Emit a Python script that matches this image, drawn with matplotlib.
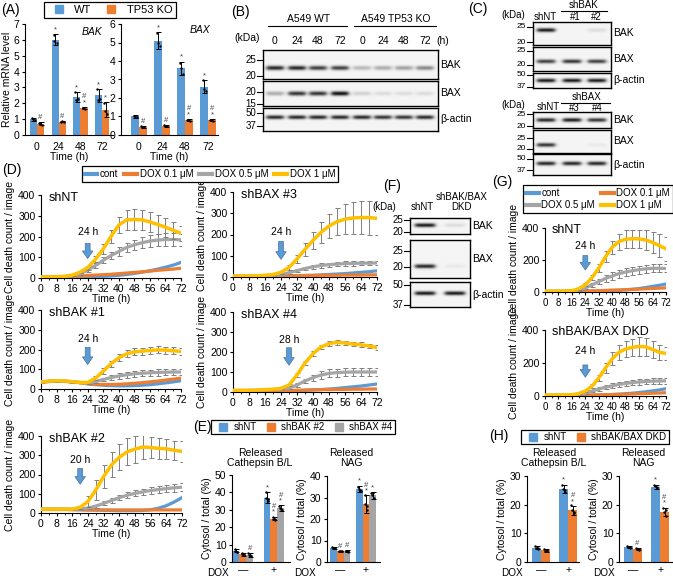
import numpy as np
import matplotlib
matplotlib.use('Agg')
import matplotlib.pyplot as plt
from matplotlib.lines import Line2D
from matplotlib.patches import FancyArrowPatch

plt.rcParams['font.family'] = ['Liberation Sans', 'DejaVu Sans']
plt.rcParams['font.size'] = 7
plt.rcParams['axes.linewidth'] = 0.8
plt.rcParams['xtick.major.width'] = 0.8
plt.rcParams['ytick.major.width'] = 0.8
plt.rcParams['xtick.major.size'] = 2.5
plt.rcParams['ytick.major.size'] = 2.5
plt.rcParams['xtick.major.pad'] = 1.5
plt.rcParams['ytick.major.pad'] = 1.5

BLUE, ORANGE, GRAY, YELLOW = '#5B9BD5', '#ED7D31', '#A5A5A5', '#FFC000'

# ---------------- data ----------------
# (A) relative mRNA level
a_times = ['0', '24', '48', '72']
bak_wt = [1.0, 6.0, 2.4, 2.5]
bak_wt_err = [0.1, 0.35, 0.3, 0.4]
bak_ko = [0.7, 0.85, 1.7, 1.6]
bak_ko_err = [0.1, 0.05, 0.06, 0.45]
bak_wt_pts = [[1.05, 0.95, 1.0], [6.3, 5.8, 5.9], [2.7, 2.3, 2.2], [2.9, 2.3, 2.2]]
bak_ko_pts = [[0.75, 0.6, 0.7], [0.85, 0.82, 0.88], [1.7, 1.65, 1.72], [2.0, 1.3, 1.5]]
bak_wt_marks = ['', '*', '*', '*']
bak_ko_marks = ['#', '#', '#\n*', '*']
bax_wt = [1.0, 5.1, 3.6, 2.6]
bax_wt_err = [0.1, 0.45, 0.35, 0.35]
bax_ko = [0.45, 0.5, 0.8, 0.8]
bax_ko_err = [0.05, 0.05, 0.05, 0.05]
bax_wt_pts = [[1.05, 0.95, 1.0], [5.5, 4.8, 5.0], [3.9, 3.3, 3.6], [2.95, 2.4, 2.5]]
bax_ko_pts = [[0.5, 0.42, 0.45], [0.52, 0.48, 0.5], [0.82, 0.78, 0.8], [0.82, 0.78, 0.8]]
bax_wt_marks = ['', '*', '*', '*']
bax_ko_marks = ['#', '#', '#\n*', '#\n*']

# western blot band intensities (0 = none, 1 = strongest)
b_lanes = ['0', '24', '48', '72', '0', '24', '48', '72']
b_bak = [0.85, 0.85, 0.75, 0.75, 0.25, 0.3, 0.35, 0.45]
b_bax = [0.3, 0.8, 0.8, 0.95, 0.15, 0.1, 0.1, 0.1]
b_actin = [0.85, 0.85, 0.85, 0.85, 0.85, 0.8, 0.8, 0.85]
c1_bak = [0.9, 0.0, 0.1]
c1_bax = [0.75, 0.8, 0.75]
c1_actin = [0.9, 0.9, 0.9]
c2_bak = [0.85, 0.9, 0.8]
c2_bax = [0.8, 0.0, 0.05]
c2_actin = [0.85, 0.85, 0.85]
f_bak = [0.9, 0.1]
f_bax = [0.85, 0.05]
f_actin = [0.9, 0.9]

# (D)/(G) cell death count / image
T = [0, 4, 8, 12, 16, 20, 24, 28, 32, 36, 40, 44, 48, 52, 56, 60, 64, 68, 72]
shNT_cont = [3, 3, 3, 3, 3, 4, 5, 6, 8, 10, 13, 17, 22, 28, 35, 43, 52, 62, 75]
shNT_d01 = [3, 4, 5, 6, 8, 10, 12, 14, 16, 18, 21, 24, 27, 30, 33, 37, 40, 43, 47]
shNT_d05 = [5, 5, 6, 7, 10, 20, 38, 60, 85, 108, 128, 147, 160, 170, 178, 183, 185, 186, 184]
shNT_d1 = [5, 5, 6, 8, 14, 28, 50, 90, 140, 200, 255, 280, 282, 280, 270, 258, 245, 230, 215]
shNT_e05 = [0, 0, 0, 0, 2, 5, 8, 12, 15, 18, 20, 22, 25, 27, 28, 30, 30, 30, 30]
shNT_e1 = [0, 0, 0, 0, 3, 6, 10, 15, 22, 30, 40, 48, 50, 50, 48, 45, 45, 40, 35]

bax3_cont = [3, 3, 3, 3, 3, 3, 4, 5, 6, 7, 8, 10, 12, 14, 16, 19, 22, 25, 29]
bax3_d01 = [3, 3, 3, 4, 4, 5, 5, 6, 6, 7, 7, 8, 8, 8, 9, 9, 9, 10, 10]
bax3_d05 = [4, 4, 5, 5, 6, 8, 12, 20, 30, 40, 48, 54, 58, 61, 63, 64, 65, 65, 66]
bax3_d1 = [4, 4, 5, 6, 8, 12, 22, 45, 85, 130, 172, 210, 240, 260, 272, 278, 280, 280, 276]
bax3_e05 = [0, 0, 0, 0, 1, 2, 3, 5, 7, 8, 9, 10, 10, 10, 10, 10, 10, 10, 10]
bax3_e1 = [0, 0, 0, 0, 1, 3, 6, 12, 20, 30, 40, 50, 58, 64, 70, 74, 78, 80, 80]

bak1_cont = [35, 38, 40, 39, 36, 32, 26, 22, 19, 17, 16, 16, 17, 19, 22, 26, 31, 36, 42]
bak1_d01 = [35, 38, 40, 39, 36, 32, 27, 24, 23, 23, 24, 26, 29, 32, 36, 40, 45, 50, 55]
bak1_d05 = [35, 40, 42, 41, 37, 33, 30, 38, 48, 58, 66, 72, 77, 80, 82, 84, 85, 86, 86]
bak1_d1 = [35, 40, 42, 41, 37, 33, 33, 55, 90, 128, 158, 178, 188, 192, 195, 198, 197, 194, 190]
bak1_e05 = [5, 6, 6, 6, 5, 5, 5, 8, 10, 12, 14, 15, 16, 16, 16, 16, 16, 16, 16]
bak1_e1 = [5, 6, 6, 6, 5, 5, 6, 10, 14, 16, 18, 18, 18, 18, 18, 18, 18, 18, 18]

bax4_cont = [5, 5, 5, 5, 5, 5, 5, 6, 7, 8, 10, 12, 15, 18, 22, 26, 30, 35, 40]
bax4_d01 = [5, 5, 5, 5, 6, 6, 7, 8, 9, 10, 11, 12, 12, 13, 13, 14, 14, 15, 15]
bax4_d05 = [8, 8, 8, 9, 10, 12, 14, 20, 35, 55, 72, 85, 93, 97, 99, 100, 100, 100, 100]
bax4_d1 = [8, 8, 9, 10, 12, 14, 18, 35, 85, 145, 192, 225, 242, 248, 245, 240, 236, 230, 222]
bax4_e05 = [1, 1, 1, 1, 2, 2, 3, 5, 8, 12, 15, 18, 20, 20, 20, 20, 20, 20, 20]
bax4_e1 = [1, 1, 1, 1, 2, 2, 3, 5, 8, 10, 12, 12, 12, 12, 12, 12, 12, 12, 12]

bak2_cont = [20, 20, 20, 19, 18, 17, 16, 15, 14, 13, 12, 12, 12, 13, 17, 25, 38, 57, 80]
bak2_d01 = [18, 18, 18, 18, 17, 17, 16, 16, 16, 16, 16, 16, 16, 16, 16, 16, 16, 16, 16]
bak2_d05 = [20, 20, 20, 20, 20, 21, 26, 36, 50, 65, 80, 92, 102, 110, 117, 122, 127, 131, 134]
bak2_d1 = [20, 20, 20, 20, 20, 30, 60, 120, 190, 250, 290, 318, 332, 343, 340, 336, 333, 326, 320]
bak2_e05 = [2, 2, 2, 2, 2, 3, 5, 8, 10, 12, 14, 15, 16, 17, 18, 18, 19, 20, 20]
bak2_e1 = [2, 2, 2, 2, 2, 8, 30, 50, 60, 65, 68, 70, 70, 60, 55, 55, 50, 50, 55]

g_nt_cont = [3, 3, 3, 3, 3, 3, 4, 5, 6, 7, 8, 10, 13, 17, 22, 28, 35, 42, 50]
g_nt_d01 = [3, 3, 3, 4, 4, 5, 6, 7, 8, 10, 12, 13, 15, 16, 18, 20, 22, 24, 26]
g_nt_d05 = [5, 5, 5, 6, 8, 12, 25, 45, 65, 85, 100, 115, 125, 133, 140, 145, 148, 148, 147]
g_nt_d1 = [5, 5, 5, 6, 8, 20, 45, 90, 150, 220, 280, 315, 330, 333, 332, 325, 310, 290, 270]
g_nt_e05 = [0, 0, 0, 1, 2, 4, 8, 12, 16, 20, 22, 25, 25, 25, 25, 25, 25, 25, 25]
g_nt_e1 = [0, 0, 0, 1, 3, 6, 10, 15, 25, 35, 40, 50, 55, 55, 55, 60, 65, 70, 75]

g_dkd_cont = [3, 3, 3, 3, 3, 3, 4, 5, 6, 7, 9, 11, 14, 17, 21, 26, 31, 37, 44]
g_dkd_d01 = [3, 3, 3, 3, 4, 4, 5, 6, 7, 8, 9, 10, 11, 12, 14, 15, 17, 18, 20]
g_dkd_d05 = [5, 5, 5, 5, 7, 10, 18, 30, 42, 53, 62, 70, 76, 81, 85, 88, 90, 91, 92]
g_dkd_d1 = [5, 5, 5, 6, 8, 15, 30, 60, 110, 170, 225, 265, 285, 295, 300, 298, 282, 265, 258]
g_dkd_e05 = [0, 0, 0, 0, 1, 2, 5, 8, 10, 12, 14, 15, 16, 17, 18, 18, 18, 18, 18]
g_dkd_e1 = [0, 0, 0, 0, 2, 4, 6, 12, 20, 30, 40, 45, 50, 52, 55, 55, 50, 45, 40]

# (E)/(H) released enzymes, [DOX -, DOX +]
dox_labels = ['\u2014', '+']
e_cat = {'shNT': [6.5, 37], 'shBAK #2': [4.5, 25], 'shBAX #4': [4.0, 31]}
e_cat_err = {'shNT': [1.0, 3.0], 'shBAK #2': [0.8, 1.0], 'shBAX #4': [1.0, 1.5]}
e_cat_pts = {'shNT': [[7.5, 6, 6.5, 5.8], [40, 35, 37, 36]],
             'shBAK #2': [[5, 4, 4.5, 4.2], [26, 24.5, 25, 24]],
             'shBAX #4': [[5, 3.5, 4, 3.8], [32, 30, 31, 30.5]]}
e_cat_marks = {'shNT': ['', '*'], 'shBAK #2': ['', '#\n*'], 'shBAX #4': ['#', '#\n*']}
e_nag = {'shNT': [6.6, 34], 'shBAK #2': [5.0, 27], 'shBAX #4': [5.1, 31]}
e_nag_err = {'shNT': [0.4, 1.5], 'shBAK #2': [0.3, 4.0], 'shBAX #4': [0.5, 1.5]}
e_nag_pts = {'shNT': [[6.8, 6.5, 6.6, 6.7], [35, 33, 34, 33.5]],
             'shBAK #2': [[5, 5.1, 4.9, 5], [31, 24, 27, 26]],
             'shBAX #4': [[5.2, 4.8, 5.1, 5.3], [32, 30, 31, 32]]}
e_nag_marks = {'shNT': ['', '*'], 'shBAK #2': ['#', '#\n*'], 'shBAX #4': ['#', '*']}

h_cat = {'shNT': [5.0, 25.5], 'shBAK/BAX DKD': [4.1, 18]}
h_cat_err = {'shNT': [0.5, 1.5], 'shBAK/BAX DKD': [0.5, 1.5]}
h_cat_pts = {'shNT': [[5.5, 4.8, 5, 4.7], [27, 24.5, 25.5, 25]],
             'shBAK/BAX DKD': [[4.5, 3.8, 4, 4.2], [20, 17, 18, 17.5]]}
h_cat_marks = {'shNT': ['', '*'], 'shBAK/BAX DKD': ['', '#\n*']}
h_nag = {'shNT': [5.3, 26.3], 'shBAK/BAX DKD': [4.5, 17.5]}
h_nag_err = {'shNT': [0.4, 0.7], 'shBAK/BAX DKD': [0.3, 1.5]}
h_nag_pts = {'shNT': [[5.5, 5, 5.4, 5.2], [27, 26, 26.5, 25.8]],
             'shBAK/BAX DKD': [[4.8, 4.2, 4.5, 4.6], [19, 16, 17.5, 18]]}
h_nag_marks = {'shNT': ['', '*'], 'shBAK/BAX DKD': ['#', '#\n*']}

# ---------------- figure ----------------
W, H = 673, 579
fig = plt.figure(figsize=(W / 100, H / 100), dpi=100)


def px_ax(x0, y0, x1, y1):
    return fig.add_axes([x0 / W, 1 - y1 / H, (x1 - x0) / W, (y1 - y0) / H])


def px_text(x, y, s, **kw):
    kw.setdefault('ha', 'center')
    kw.setdefault('va', 'center')
    fig.text(x / W, 1 - y / H, s, **kw)


def excel_axes(ax):
    ax.spines['top'].set_visible(False)
    ax.spines['right'].set_visible(False)
    ax.tick_params(direction='out')


def px_legend(handles, labels, cx, cy, **kw):
    opts = dict(loc='center', bbox_to_anchor=(cx / W, 1 - cy / H), frameon=True,
                fancybox=False, edgecolor='black', framealpha=1, borderpad=0.3,
                handletextpad=0.4, columnspacing=0.8, borderaxespad=0)
    opts.update(kw)
    leg = fig.legend(handles, labels, **opts)
    leg.get_frame().set_linewidth(0.9)
    return leg


def sq(c):
    return Line2D([], [], marker='s', ls='', color=c, markersize=6)


def jitter(n):
    return [-0.09, 0.09, -0.04, 0.05][:n]


def group_bars(ax, series, errs, pts, marks, colors, width, mark_gap):
    names = list(series)
    k = len(names)
    for i, name in enumerate(names):
        xs = np.arange(len(series[name])) + (i - (k - 1) / 2) * width
        ax.bar(xs, series[name], width, color=colors[i], zorder=2)
        ax.errorbar(xs, series[name], yerr=errs[name], fmt='none', ecolor='black',
                    elinewidth=0.7, capsize=1.8, capthick=0.7, zorder=3)
        for x, p, m, v, e in zip(xs, pts[name], marks[name], series[name], errs[name]):
            ax.scatter(x + np.array(jitter(len(p))) * width * 2.2, p, s=3, color='black',
                       zorder=4, linewidths=0)
            if m:
                ax.text(x, v + e + mark_gap, m, ha='center', va='bottom', fontsize=5.5,
                        color='#404040', linespacing=0.75)


# ---- (A)
px_text(10, 10, '(A)', fontsize=10)
px_legend([sq(BLUE), sq(ORANGE)], ['WT', 'TP53 KO'], 110, 10, ncol=2, fontsize=8)
a_panels = [((25, 24, 113, 135), (-0.55, 3.5), 7, 'BAK', bak_wt, bak_wt_err, bak_ko, bak_ko_err,
             bak_wt_pts, bak_ko_pts, bak_wt_marks, bak_ko_marks, (92, 32)),
            ((121, 24, 218, 135), (-0.78, 3.43), 6, 'BAX', bax_wt, bax_wt_err, bax_ko, bax_ko_err,
             bax_wt_pts, bax_ko_pts, bax_wt_marks, bax_ko_marks, (200, 30))]
for (box, xl, ymax, gene, wt, wte, ko, koe, wtp, kop, wtm, kom, gxy) in a_panels:
    ax = px_ax(*box)
    excel_axes(ax)
    group_bars(ax, {'WT': wt, 'KO': ko}, {'WT': wte, 'KO': koe}, {'WT': wtp, 'KO': kop},
               {'WT': wtm, 'KO': kom}, [BLUE, ORANGE], 0.33, ymax * 0.01)
    ax.set_xlim(*xl)
    ax.set_ylim(0, ymax)
    ax.set_yticks(range(ymax + 1))
    ax.set_xticks(range(4))
    ax.set_xticklabels(a_times, fontsize=7.5)
    ax.tick_params(axis='x', length=0, pad=5)
    ax.tick_params(axis='y', labelsize=7.5)
    ax.set_xlabel('Time (h)', fontsize=7.5, labelpad=0)
    px_text(gxy[0], gxy[1], gene, fontsize=7.5, style='italic')
    if gene == 'BAK':
        ax.set_ylabel('Relative mRNA level', fontsize=7.5, labelpad=1)


# ---- western blots
def blot(x0, y0, x1, y1, lanes, intens, band_frac, name, markers, thick=2.0, lane_w=16, mfs=7):
    ax = px_ax(x0, y0, x1, y1)
    xs = np.linspace(x0, x1, int((x1 - x0) * 4))
    ys = np.linspace(y0, y1, int((y1 - y0) * 4))
    X, Y = np.meshgrid(xs, ys)
    by = y0 + band_frac * (y1 - y0)
    img = np.zeros_like(X)
    for lx, inten in zip(lanes, intens):
        lane = 1 / (1 + np.exp((np.abs(X - lx) - lane_w / 2) / 1.2))
        img += inten * lane * np.exp(-((Y - by) / thick) ** 2)
    ax.imshow(0.96 - 0.96 * np.clip(img, 0, 1), cmap='gray', vmin=0, vmax=1,
              extent=(x0, x1, y1, y0), aspect='auto', interpolation='bilinear')
    ax.set_xlim(x0, x1)
    ax.set_ylim(y1, y0)
    ax.set_xticks([])
    ax.set_yticks([])
    for s in ax.spines.values():
        s.set_linewidth(1.0)
    for lab, my in markers:
        ax.plot([x0 - 6, x0], [my, my], color='black', lw=0.8, clip_on=False)
        ax.text(x0 - 7, my, lab, ha='right', va='center', fontsize=mfs)
    ax.text(x1 + 2, (y0 + y1) / 2, name, ha='left', va='center', fontsize=7.5)


# (B)
px_text(240, 12, '(B)', fontsize=10)
b_x = [275, 297, 318, 340, 362, 383, 404, 425]
px_text(309, 19, 'A549 WT', fontsize=7.5)
fig.add_artist(Line2D([268 / W, 347 / W], [1 - 26 / H] * 2, color='black', lw=0.8))
px_text(396, 19, 'A549 TP53 KO', fontsize=7.5)
fig.add_artist(Line2D([354 / W, 436 / W], [1 - 26 / H] * 2, color='black', lw=0.8))
px_text(247, 38, '(kDa)', fontsize=7.5)
for x, lab in zip(b_x, b_lanes):
    px_text(x, 41, lab, fontsize=7.5)
px_text(443, 41, '(h)', fontsize=7.5)
blot(263, 50, 438, 79, b_x, b_bak, 0.62, 'BAK', [('25', 60), ('20', 76)], thick=2.2, lane_w=17)
blot(263, 81, 438, 106, b_x, b_bax, 0.5, 'BAX', [('20', 92), ('15', 104)], thick=2.2, lane_w=17)
blot(263, 108, 438, 131, b_x, b_actin, 0.4, '\u03b2-actin', [('50', 113), ('37', 126)],
     thick=2.0, lane_w=17)

# (C)
px_text(478, 9, '(C)', fontsize=10)
c_x = [546, 572, 597]
px_text(513, 15, '(kDa)', fontsize=7)
px_text(545, 17, 'shNT', fontsize=7)
px_text(584, 5, 'shBAK', fontsize=7)
fig.add_artist(Line2D([561 / W, 607 / W], [1 - 11 / H] * 2, color='black', lw=0.8))
px_text(575, 17, '#1', fontsize=7)
px_text(596, 17, '#2', fontsize=7)
blot(533, 22, 611, 45, c_x, c1_bak, 0.35, 'BAK', [('25', 27), ('20', 42)], lane_w=18, mfs=6)
blot(533, 47, 611, 71, c_x, c1_bax, 0.6, 'BAX', [('25', 51), ('20', 65)], lane_w=18, mfs=6)
blot(533, 73, 611, 88, c_x, c1_actin, 0.5, '\u03b2-actin', [('50', 75), ('37', 87)], lane_w=18,
     mfs=6)
px_text(513, 105, '(kDa)', fontsize=7)
px_text(548, 107, 'shNT', fontsize=7)
px_text(587, 97, 'shBAX', fontsize=7)
fig.add_artist(Line2D([561 / W, 610 / W], [1 - 103 / H] * 2, color='black', lw=0.8))
px_text(574, 108, '#3', fontsize=7)
px_text(597, 108, '#4', fontsize=7)
blot(533, 112, 611, 128, c_x, c2_bak, 0.5, 'BAK', [('25', 114), ('20', 126)], lane_w=18, mfs=6)
blot(533, 130, 611, 153, c_x, c2_bax, 0.65, 'BAX', [('25', 138), ('20', 149)], lane_w=18, mfs=6)
blot(533, 154, 611, 175, c_x, c2_actin, 0.45, '\u03b2-actin', [('50', 159), ('37', 170)], lane_w=18,
     mfs=6)

# (F)
px_text(392, 186, '(F)', fontsize=10)
f_x = [425, 455]
px_text(384, 207, '(kDa)', fontsize=7)
px_text(422, 207, 'shNT', fontsize=7)
px_text(462, 202, 'shBAK/BAX\nDKD', fontsize=7, linespacing=1.0)
blot(410, 218, 470, 234, f_x, f_bak, 0.45, 'BAK', [('25', 220), ('20', 232)], lane_w=20)
blot(410, 240, 470, 278, f_x, f_bax, 0.7, 'BAX', [('25', 251), ('20', 267)], lane_w=20)
blot(410, 282, 470, 307, f_x, f_actin, 0.45, '\u03b2-actin', [('50', 285), ('37', 305)], lane_w=20)


# ---- (D) and (G) cell death time courses
def death_panel(box, title, cont, d01, d05, d1, e05, e1, arr_t, arr_lab, lab_y, tail, tip,
                yticks, xfs=7.5):
    ax = px_ax(*box)
    excel_axes(ax)
    ax.plot(T, cont, color=BLUE, lw=2.3, zorder=3)
    ax.plot(T, d01, color=ORANGE, lw=2.3, zorder=3)
    ax.errorbar(T, d05, yerr=e05, fmt='none', ecolor='#7F7F7F', elinewidth=0.7,
                capsize=1.8, capthick=0.7, zorder=4)
    ax.plot(T, d05, color=GRAY, lw=2.3, zorder=5)
    ax.errorbar(T, d1, yerr=e1, fmt='none', ecolor='#7F7F7F', elinewidth=0.7,
                capsize=1.8, capthick=0.7, zorder=6)
    ax.plot(T, d1, color=YELLOW, lw=2.5, zorder=7)
    ax.add_patch(FancyArrowPatch((arr_t, tail), (arr_t, tip), mutation_scale=10,
                                 arrowstyle='simple,head_width=0.75,head_length=0.55,tail_width=0.35',
                                 fc=BLUE, ec='#41719C', lw=0.5, zorder=8))
    ax.text(arr_t, lab_y, arr_lab, ha='center', va='center', fontsize=7.5)
    ax.text(4, 385, title, ha='left', va='center', fontsize=9)
    ax.set_xlim(0, 72)
    ax.set_ylim(0, 400)
    ax.set_xticks(range(0, 73, 8))
    ax.set_xticks(range(4, 72, 8), minor=True)
    ax.tick_params(axis='x', which='minor', length=1.5, direction='out')
    ax.tick_params(axis='x', labelsize=xfs)
    ax.set_yticks(yticks)
    ax.tick_params(axis='y', labelsize=7.5)
    ax.set_xlabel('Time (h)', fontsize=7.5, labelpad=0)
    ax.set_ylabel('Cell death count / image', fontsize=7.5, labelpad=2)
    return ax


px_text(12, 170, '(D)', fontsize=10)
line_handles = [Line2D([], [], color=c, lw=3) for c in (BLUE, ORANGE, GRAY, YELLOW)]
dose_labels = ['cont', 'DOX 0.1 \u03bcM', 'DOX 0.5 \u03bcM', 'DOX 1 \u03bcM']
px_legend(line_handles, dose_labels, 210, 174, ncol=4, fontsize=7, handlelength=1.3,
          columnspacing=0.6, handletextpad=0.3)

d_ticks = [0, 100, 200, 300, 400]
death_panel((41, 195, 181, 278), 'shNT', shNT_cont, shNT_d01, shNT_d05, shNT_d1, shNT_e05,
            shNT_e1, 24, '24 h', 222, 180, 80, d_ticks)
death_panel((233, 192, 377, 277), 'shBAX #3', bax3_cont, bax3_d01, bax3_d05, bax3_d1, bax3_e05,
            bax3_e1, 24, '24 h', 212, 180, 70, d_ticks)
death_panel((41, 310, 181, 389), 'shBAK #1', bak1_cont, bak1_d01, bak1_d05, bak1_d1, bak1_e05,
            bak1_e1, 24, '24 h', 253, 225, 110, d_ticks)
death_panel((233, 312, 377, 392), 'shBAX #4', bax4_cont, bax4_d01, bax4_d05, bax4_d1, bax4_e05,
            bax4_e1, 28, '28 h', 262, 235, 120, d_ticks)
death_panel((41, 436, 182, 513), 'shBAK #2', bak2_cont, bak2_d01, bak2_d05, bak2_d1, bak2_e05,
            bak2_e1, 20, '20 h', 275, 245, 135, d_ticks)

px_text(502, 182, '(G)', fontsize=10)
g_order = [0, 2, 1, 3]   # column-major fill -> rows: cont / DOX 0.1, DOX 0.5 / DOX 1
px_legend([line_handles[i] for i in g_order], [dose_labels[i] for i in g_order], 598, 199,
          ncol=2, fontsize=7, handlelength=1.3, columnspacing=0.6, handletextpad=0.3,
          labelspacing=0.2)
g_ticks = [0, 200, 400]
death_panel((545, 228, 666, 292), 'shNT', g_nt_cont, g_nt_d01, g_nt_d05, g_nt_d1, g_nt_e05,
            g_nt_e1, 24, '24 h', 285, 245, 120, g_ticks, xfs=7)
death_panel((545, 330, 666, 396), 'shBAK/BAX DKD', g_dkd_cont, g_dkd_d01, g_dkd_d05, g_dkd_d1,
            g_dkd_e05, g_dkd_e1, 24, '24 h', 270, 205, 97, g_ticks, xfs=7)


# ---- (E) and (H) release assays
def release_panel(box, xl, ymax, ystep, series, errs, pts, marks, colors, width, title, title_x,
                  dox_x):
    ax = px_ax(*box)
    excel_axes(ax)
    group_bars(ax, series, errs, pts, marks, colors, width, ymax * 0.01)
    ax.set_xlim(*xl)
    ax.set_ylim(0, ymax)
    ax.set_yticks(range(0, ymax + 1, ystep))
    ax.tick_params(axis='y', labelsize=7.5)
    ax.set_xticks([0, 1])
    ax.set_xticklabels(dox_labels, fontsize=7.5)
    ax.tick_params(axis='x', length=0, pad=2)
    ax.set_ylabel('Cytosol / total (%)', fontsize=7.5, labelpad=2)
    px_text(title_x, 458, title, fontsize=7.5, linespacing=1.1)
    px_text(dox_x, 573.5, 'DOX', fontsize=7.2, ha='right')


px_text(202, 427, '(E)', fontsize=10)
px_legend([sq(BLUE), sq(ORANGE), sq(GRAY)], list(e_cat), 303, 427, ncol=3, fontsize=7,
          handletextpad=0.05, columnspacing=0.5, borderpad=0.25)
release_panel((232, 475, 290, 562), (-0.35, 1.52), 50, 10, e_cat, e_cat_err, e_cat_pts,
              e_cat_marks, [BLUE, ORANGE, GRAY], 0.22, 'Released\nCathepsin B/L', 260, 229)
release_panel((327, 476, 380, 562), (-0.52, 1.55), 40, 10, e_nag, e_nag_err, e_nag_pts,
              e_nag_marks, [BLUE, ORANGE, GRAY], 0.26, 'Released\nNAG', 351, 316)

px_text(499, 436, '(H)', fontsize=10)
px_legend([sq(BLUE), sq(ORANGE)], list(h_cat), 595, 437, ncol=2, fontsize=7,
          handletextpad=0.05, columnspacing=0.5, borderpad=0.25)
release_panel((527, 476, 579, 562), (-0.52, 1.4), 30, 10, h_cat, h_cat_err, h_cat_pts,
              h_cat_marks, [BLUE, ORANGE], 0.33, 'Released\nCathepsin B/L', 554, 523)
release_panel((619, 476, 672, 562), (-0.52, 1.44), 30, 10, h_nag, h_nag_err, h_nag_pts,
              h_nag_marks, [BLUE, ORANGE], 0.33, 'Released\nNAG', 643, 615)

fig.savefig('out.png', dpi=100)
